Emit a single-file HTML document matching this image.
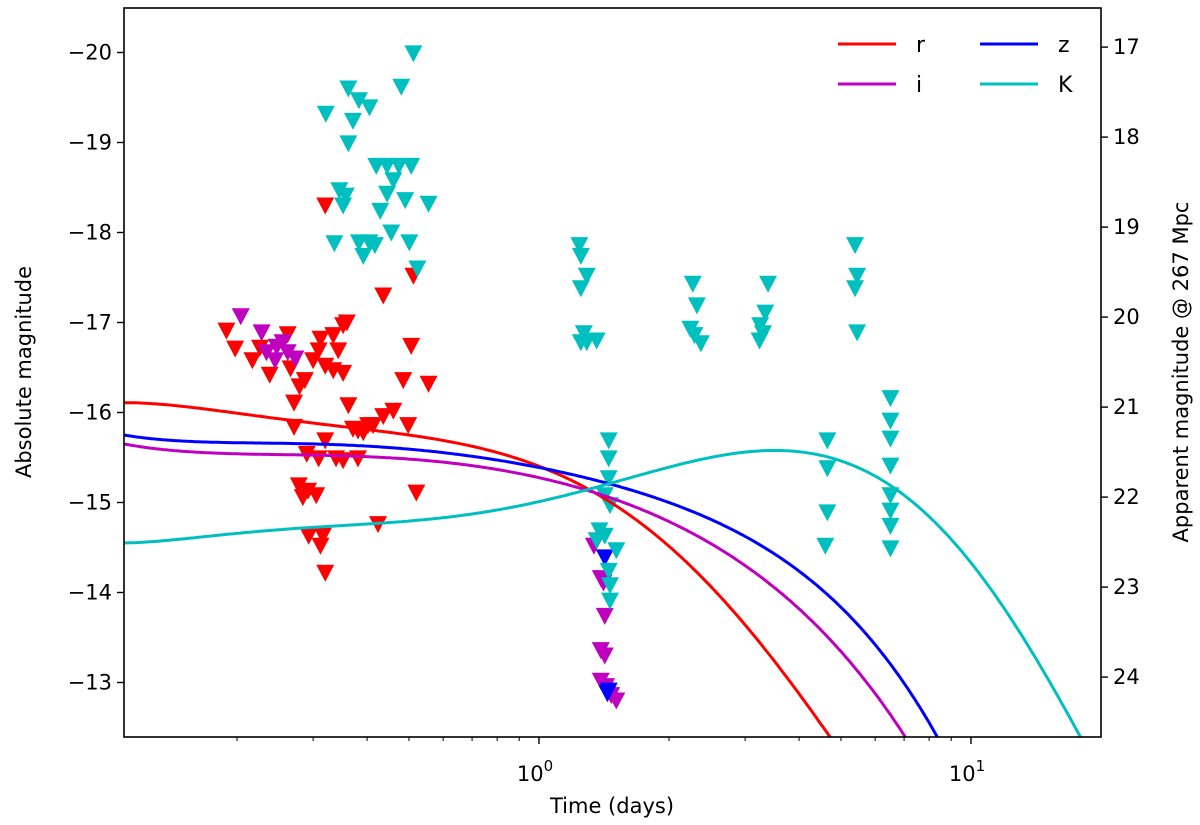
<!DOCTYPE html>
<html><head><meta charset="utf-8">
<style>
html,body{margin:0;padding:0;background:#fff;}
svg{display:block;font-family:"DejaVu Sans","Liberation Sans",sans-serif;}
</style></head>
<body>
<svg id="chart" width="1200" height="825" viewBox="0 0 1200 825" xmlns="http://www.w3.org/2000/svg"></svg>
<script>
// ---- data ----
const modelT = {
  r: [0.1095, 0.280, 0.530, 0.812, 1.244, 1.437, 1.713, 2.043, 2.448, 2.920, 3.481, 4.173, 4.642, 4.975],
  i: [0.1095, 0.280, 0.530, 0.812, 1.244, 1.713, 1.906, 2.448, 3.481, 4.173, 4.975, 5.932, 6.961, 7.31],
  z: [0.1095, 0.280, 0.530, 0.812, 1.244, 1.713, 1.906, 2.448, 3.481, 4.173, 4.975, 5.932, 7.111, 8.255, 8.71],
  K: [0.1095, 0.280, 0.530, 0.812, 1.244, 1.713, 1.906, 2.448, 3.481, 4.544, 5.932, 7.111, 8.17, 9.79, 11.67, 13.92, 17.60, 18.9]
};
const modelM = {
  r: [-16.11, -15.89, -15.77, -15.51, -15.17, -15.03, -14.83, -14.47, -14.11, -13.69, -13.25, -12.77, -12.42, -12.25],
  i: [-15.65, -15.53, -15.47, -15.36, -15.17, -14.92, -14.83, -14.58, -14.06, -13.73, -13.36, -12.92, -12.42, -12.28],
  z: [-15.75, -15.65, -15.59, -15.47, -15.27, -15.12, -15.03, -14.84, -14.44, -14.17, -13.84, -13.45, -12.95, -12.42, -12.25],
  K: [-14.55, -14.72, -14.78, -14.95, -15.14, -15.28, -15.36, -15.47, -15.59, -15.55, -15.33, -15.03, -14.77, -14.39, -13.88, -13.36, -12.44, -12.2]
};
const rT = [0.189,0.198,0.217,0.226,0.238,0.262,0.266,0.271,0.279,0.287,0.300,0.309,0.320,0.334,0.343,0.352,0.359,0.334,0.352,0.312,0.271,0.290,0.309,0.320,0.339,0.352,0.278,0.284,0.292,0.305,0.293,0.312,0.320,0.316,0.362,0.371,0.381,0.392,0.402,0.413,0.436,0.460,0.485,0.498,0.506,0.320,0.436,0.512,0.520,0.555,0.424,0.381];
const rM = [-16.91,-16.71,-16.58,-16.72,-16.42,-16.87,-16.49,-16.11,-16.29,-16.36,-16.58,-16.69,-16.52,-16.86,-16.69,-16.97,-17.00,-16.47,-16.44,-16.82,-15.84,-15.54,-15.49,-15.69,-15.49,-15.47,-15.19,-15.06,-15.13,-15.08,-14.63,-14.52,-14.22,-14.63,-16.08,-15.82,-15.80,-15.78,-15.86,-15.86,-15.96,-16.02,-16.36,-15.86,-16.74,-18.30,-17.30,-17.52,-15.11,-16.32,-14.76,-15.49];
const iT = [0.204,0.228,0.234,0.247,0.255,0.262,0.273,0.245,1.34,1.39,1.42,1.39,1.42,1.39,1.43,1.47,1.51,1.41];
const iM = [-17.07,-16.89,-16.67,-16.73,-16.78,-16.67,-16.60,-16.58,-14.52,-14.16,-13.74,-13.36,-13.30,-13.02,-12.96,-12.86,-12.80,-14.11];
const zT = [1.42,1.44,1.45];
const zM = [-14.39,-12.88,-12.91];
const KT = [0.321,0.362,0.371,0.383,0.405,0.362,0.345,0.352,0.336,0.357,0.383,0.392,0.405,0.417,0.429,0.420,0.445,0.445,0.455,0.460,0.474,0.480,0.490,0.506,0.501,0.512,0.523,0.555,
  1.24,1.25,1.29,1.25,1.27,1.29,1.25,1.36,
  1.45,1.45,1.45,1.42,1.46,1.38,1.42,1.36,1.51,1.45,1.46,1.46,
  2.27,2.32,2.24,2.29,2.37, 3.39,3.34,3.25,3.30,3.24, 5.39,5.45,5.39,5.45, 4.65,4.65,4.65,4.60,
  6.51,6.51,6.51,6.51,6.51,6.51,6.51,6.51];
const KM = [-19.32,-19.60,-19.24,-19.47,-19.39,-18.99,-18.47,-18.30,-17.88,-18.41,-17.89,-17.74,-17.89,-17.86,-18.24,-18.74,-18.43,-18.74,-18.00,-18.58,-18.74,-19.62,-18.36,-18.74,-17.89,-19.99,-17.60,-18.32,
  -17.86,-17.74,-17.52,-17.38,-16.88,-16.78,-16.78,-16.80,
  -15.69,-15.49,-15.27,-15.08,-14.97,-14.69,-14.63,-14.58,-14.47,-14.24,-14.08,-13.91,
  -17.43,-17.19,-16.93,-16.86,-16.77, -17.43,-17.11,-16.97,-16.88,-16.80, -17.86,-17.52,-17.38,-16.89, -15.69,-15.38,-14.89,-14.52,
  -16.16,-15.91,-15.71,-15.41,-15.08,-14.91,-14.74,-14.49];
const yTicks = [-20,-19,-18,-17,-16,-15,-14,-13];
const rightTicks = [17,18,19,20,21,22,23,24];
const distMod = 37.06;
const xMajor = [1,10];
const xMajorLabels = ["0","1"];

// ---- axes ----
const L=124, R=1101, T=8, B=737;
const X = t => 539 + 432*Math.log10(t);
const Y = m => 52.5 + (m + 20)*90;
const svg = document.getElementById('chart');
const NS='http://www.w3.org/2000/svg';
function mk(tag, attrs, parent){const e=document.createElementNS(NS,tag);for(const k in attrs)e.setAttribute(k,attrs[k]);(parent||svg).appendChild(e);return e;}

const defs = mk('defs',{});
const cp = mk('clipPath',{id:'plotclip'},defs);
mk('rect',{x:L,y:T,width:R-L,height:B-T},cp);

const colors = {r:'#ff0000', i:'#bf00bf', z:'#0000ff', K:'#00bfbf'};

// least-squares polynomial in log10(t) to smooth the read-off model points
function polyFit(us, vs, deg){
  const n=deg+1, A=[], b=[];
  for(let r=0;r<n;r++){A.push(new Array(n).fill(0)); b.push(0);}
  us.forEach((u,k)=>{
    for(let r=0;r<n;r++){ b[r]+=vs[k]*Math.pow(u,r); for(let c=0;c<n;c++) A[r][c]+=Math.pow(u,r+c); }
  });
  for(let c=0;c<n;c++){
    let p=c; for(let r=c+1;r<n;r++) if(Math.abs(A[r][c])>Math.abs(A[p][c])) p=r;
    [A[c],A[p]]=[A[p],A[c]]; [b[c],b[p]]=[b[p],b[c]];
    for(let r=c+1;r<n;r++){ const f=A[r][c]/A[c][c]; for(let k=c;k<n;k++) A[r][k]-=f*A[c][k]; b[r]-=f*b[c]; }
  }
  const x=new Array(n).fill(0);
  for(let r=n-1;r>=0;r--){ let s=b[r]; for(let k=r+1;k<n;k++) s-=A[r][k]*x[k]; x[r]=s/A[r][r]; }
  return x;
}
function smoothPath(ts, ms, deg){
  const u0=Math.log10(ts[0]), u1=Math.log10(ts[ts.length-1]);
  const norm = t => (2*Math.log10(t)-u0-u1)/(u1-u0);
  const coef = polyFit(ts.map(norm), ms, deg);
  let path='';
  for(let s=0;s<=300;s++){
    const u = -1 + 2*s/300;
    let m=0; coef.forEach((c,k)=>{ m+=c*Math.pow(u,k); });
    const lt = ((u*(u1-u0))+u0+u1)/2;
    const x = 539+432*lt, y = Y(m);
    path += (s? ' L':'M') + x.toFixed(1)+','+y.toFixed(1);
  }
  return path;
}

const plot = mk('g',{'clip-path':'url(#plotclip)'});



function drawPts(ts, ms, band){
  const g = mk('g',{fill:colors[band]},plot);
  
  
  ts.forEach((t,k)=>{
    const x=X(t), y=Y(ms[k]);
    const tri = mk('polygon',{points:`${x-9},${y-8} ${x+9},${y-8} ${x},${y+9}`},g);
    
    
  });
}
drawPts(rT, rM, 'r');
drawPts(iT, iM, 'i');
drawPts(zT, zM, 'z');
drawPts(KT, KM, 'K');

const degs = {r:5, i:5, z:5, K:6};
['r','i','z','K'].forEach(b=>{
  const p = mk('path',{d:smoothPath(modelT[b],modelM[b],degs[b]),fill:'none',stroke:colors[b],'stroke-width':3,'stroke-linejoin':'round'},plot);
  
  
});

// frame
const frame = mk('rect',{x:L,y:T,width:R-L,height:B-T,fill:'none',stroke:'#000','stroke-width':1.6});



// left y ticks
yTicks.forEach(m=>{
  const y=Y(m);
  mk('line',{x1:L-7,x2:L,y1:y,y2:y,stroke:'#000','stroke-width':1.4});
  const t=mk('text',{x:L-12,y:y+7,'text-anchor':'end','font-size':21},svg);
  t.textContent='\u2212'+Math.abs(m);
  
  
});
// right ticks
rightTicks.forEach(a=>{
  const y=Y(a-distMod);
  mk('line',{x1:R,x2:R+7,y1:y,y2:y,stroke:'#000','stroke-width':1.4});
  const t=mk('text',{x:R+12,y:y+7,'text-anchor':'start','font-size':21},svg);
  t.textContent=String(a);
  
  
});
// x ticks
xMajor.forEach((v,k)=>{
  const x=X(v);
  mk('line',{x1:x,x2:x,y1:B,y2:B+7,stroke:'#000','stroke-width':1.4});
  const t=mk('text',{x:x-4,y:B+44,'text-anchor':'middle','font-size':21});
  
  
  const a=mk('tspan',{},t); a.textContent='10';
  const s=mk('tspan',{dy:-10,'font-size':15},t); s.textContent=xMajorLabels[k];
});
[0.2,0.3,0.4,0.5,0.6,0.7,0.8,0.9,2,3,4,5,6,7,8,9,20].forEach(v=>{
  const x=X(v); if(x<L||x>R) return;
  mk('line',{x1:x,x2:x,y1:B,y2:B+4,stroke:'#000','stroke-width':1});
});

// axis titles
const xt=mk('text',{x:612,y:813,'text-anchor':'middle','font-size':21}); xt.textContent='Time (days)';
 
const yt=mk('text',{x:0,y:0,'text-anchor':'middle','font-size':21,transform:'translate(31,372) rotate(-90)'}); yt.textContent='Absolute magnitude';
 
const yr=mk('text',{x:0,y:0,'text-anchor':'middle','font-size':21,transform:'translate(1188,372) rotate(-90)'}); yr.textContent='Apparent magnitude @ 267 Mpc';
 

// legend
const leg = mk('g',{});


[['r',838,44],['z',980,44],['i',838,84],['K',980,84]].forEach(([b,x,y])=>{
  const g=mk('g',{},leg);
  
  
  mk('line',{x1:x,x2:x+58,y1:y,y2:y,stroke:colors[b],'stroke-width':3},g);
  const t=mk('text',{x:x+78,y:y+8,'font-size':22},g); t.textContent=b;
});
</script>
</body></html>
